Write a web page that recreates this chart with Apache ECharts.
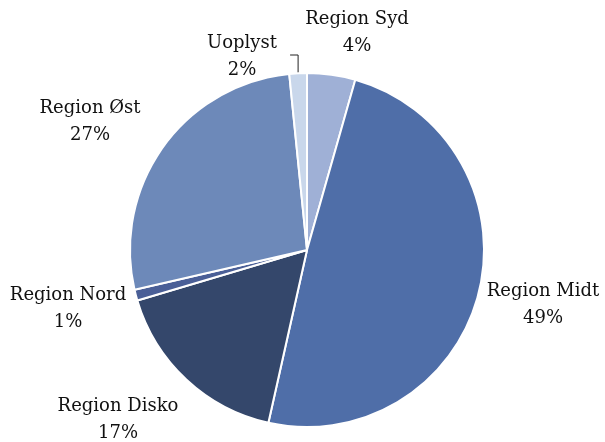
<!DOCTYPE html>
<html>
<head>
<meta charset="utf-8">
<script src="https://cdn.jsdelivr.net/npm/echarts@6/dist/echarts.min.js"></script>
<style>
  html, body { margin: 0; padding: 0; background: #fff; }
  #chart { width: 605px; height: 442px; }
</style>
</head>
<body>
<div id="chart"></div>
<script>
// andele i procent
const names = ['Region Syd', 'Region Midt', 'Region Disko', 'Region Nord', 'Region Øst', 'Uoplyst']
const values = [4.4, 49.1, 16.9, 1.0, 27.0, 1.6]
const colors = ['#9fb0d6', '#4f6ea8', '#34476b', '#4a5f97', '#6d89b9', '#c9d7eb']

// etiketternes midtpunkter (kun placering af tekst)
const labelPos = [[357, 33], [543, 305], [118, 420], [68, 309], [90, 122], [242, 57]]

const chart = echarts.init(document.getElementById('chart'))

const data = names.map((n, i) => ({
  name: n,
  value: values[i],
  itemStyle: { color: colors[i] },
  labelLine: { show: n === 'Uoplyst' }
}))

chart.setOption({
  animation: false,
  series: [{
    type: 'pie',
    center: [307, 250],
    radius: 177,
    startAngle: 90,
    clockwise: true,
    itemStyle: { borderColor: '#fff', borderWidth: 2 },
    label: {
      position: 'outside',
      fontFamily: 'DejaVu Serif',
      fontSize: 18,
      lineHeight: 27,
      color: '#111',
      overflow: 'none',
      formatter: p => p.name + '\n' + Math.round(p.percent) + '%'
    },
    labelLine: {
      length: 12,
      length2: 8,
      lineStyle: { color: '#222', width: 1 }
    },
    labelLayout: p => {
      const pos = labelPos[p.dataIndex]
      const out = { x: pos[0], y: pos[1], align: 'center', verticalAlign: 'middle' }
      // knæk-linje for den lille skive: lodret op, så kort vandret
      if (p.labelLinePoints && names[p.dataIndex] === 'Uoplyst') {
        const s = p.labelLinePoints[0]
        const yy = pos[1] - 2
        out.labelLinePoints = [[s[0], s[1]], [s[0], yy], [s[0] - 8, yy]]
      }
      return out
    },
    data: data
  }]
})
</script>
</body>
</html>
